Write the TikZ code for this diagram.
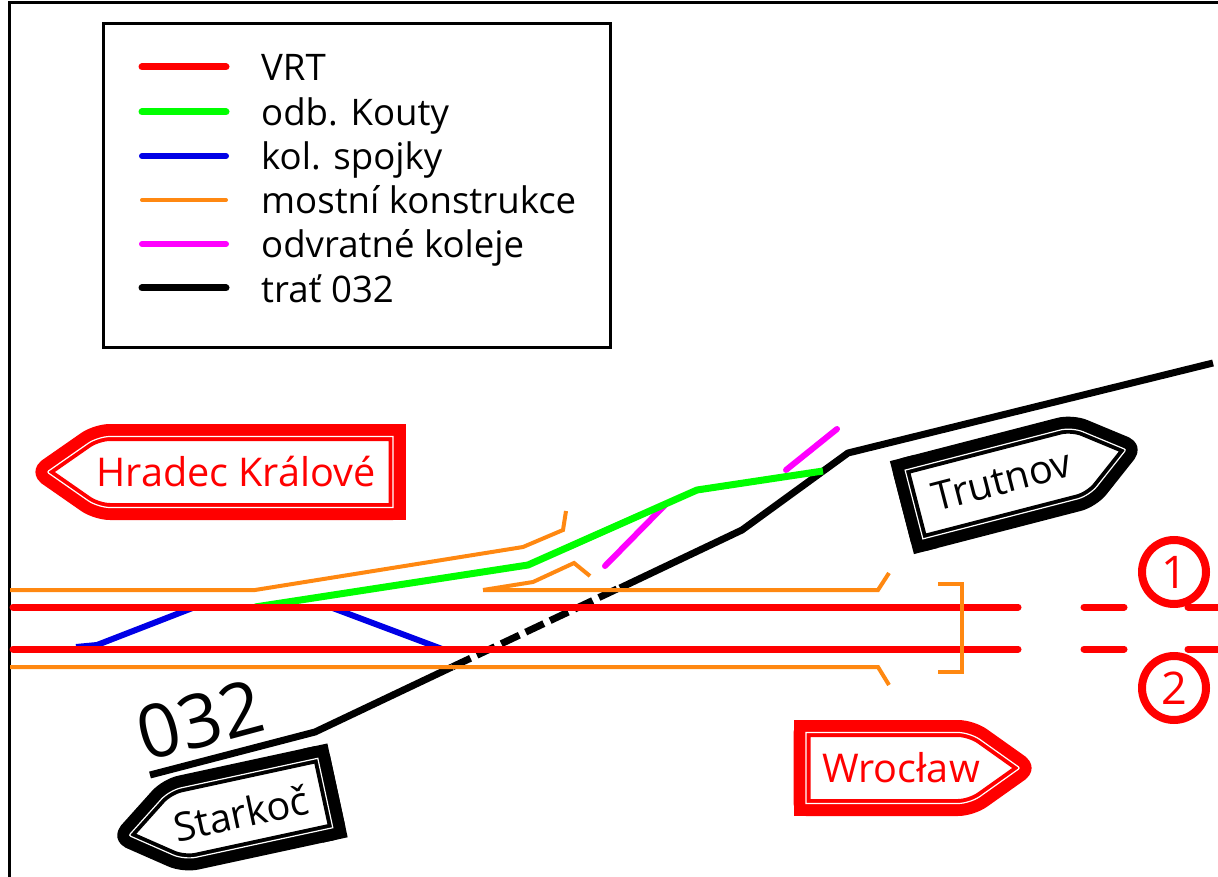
\documentclass[tikz,border=0pt]{standalone}
\usepackage{fontspec}
\setmainfont{Open Sans}
\definecolor{vrtred}{RGB}{255,0,0}
\definecolor{odbgreen}{RGB}{0,255,0}
\definecolor{spojblue}{RGB}{0,0,230}
\definecolor{mostorange}{RGB}{255,136,17}
\definecolor{odvmagenta}{RGB}{255,0,255}
\tikzset{
    vrt/.style={draw=vrtred,line width=7pt},
    kouty/.style={draw=odbgreen,line width=7pt},
    spojka/.style={draw=spojblue,line width=6pt},
    most/.style={draw=mostorange,line width=4pt},
    odvrat/.style={draw=odvmagenta,line width=6pt,line cap=round},
    trat/.style={draw=black,line width=7pt},
    legtext/.style={anchor=base west,inner sep=0pt,font=\fontsize{36.6}{40}\selectfont},
    signtext/.style={inner sep=0pt,font=\fontsize{39.6}{44}\selectfont},
    numring/.style={circle,draw=vrtred,line width=8pt,minimum size=64pt,inner sep=0pt,text=vrtred,font=\fontsize{45}{50}\selectfont}
}
% tabule: origin, rotation, colour, shoulder, tip
\newcommand{\tabule}[5]{
    \begin{scope}[shift={(#1)},rotate=#2]
        \def\obrys{(0,-35.5) [rounded corners=12pt] -- (#4,-35.5) [rounded corners=2pt] -- (#5,0) [rounded corners=12pt] -- (#4,35.5) [sharp corners] -- (0,35.5) -- cycle}
        \draw[#3,line width=25pt,line join=round] \obrys;
        \draw[#3,line width=25pt,line cap=rect] (0,-35.5) -- (0,35.5);
        \fill[white] \obrys;
        \draw[#3,line width=9pt] \obrys;
        \draw[white,line width=1.2pt] \obrys;
    \end{scope}
}
\begin{document}
\begin{tikzpicture}[x=1pt,y=-1pt]
    \useasboundingbox (0,0) rectangle (1218,877);
    \draw[line width=3pt] (9,877) -- (9,2.5) -- (1218,2.5);

    % legenda
    \draw[line width=3pt] (103,24) rectangle (610,347);
    \foreach \y/\kind/\nazev in {67/vrt/VRT,112/kouty/odb. Kouty,156/spojka/kol. spojky,200/most/mostní konstrukce,244/odvrat/odvratné koleje,288/trat/trať 032}
        {\node[legtext] (leg\y) at (261,\y+14) {\nazev};
         \coordinate (start\y) at (142,\y);
         \draw[\kind,line cap=round] (start\y) -- (226,\y);}

    % trat 032
    \draw[trat,line join=round] (1213,363) -- (848,453) -- (742,530) -- (620,588);
    \draw[trat,dash pattern=on 20pt off 7pt] (617,589) -- (452,667);
    \draw[trat,line join=round] (452,667) -- (315,732) -- (150,775);

    % odvratne koleje
    \draw[odvrat] (605,566) -- (665,505);
    \draw[odvrat] (786,470) -- (837,429);

    % spojky a odbocka
    \draw[spojka] (76,647) -- (97,645) -- (195,607);
    \draw[spojka] (330,607) -- (442,649);
    \draw[kouty,line join=round] (255,607) -- (528,565) -- (697,490) -- (823,471);

    % VRT
    \foreach \y in {607,649}
        {\draw[vrt,line cap=round] (13,\y) -- (1018,\y);
         \draw[vrt,line cap=round] (1084,\y) -- (1124,\y);
         \draw[vrt,line cap=round] (1188,\y) -- (1222,\y);}

    % mostni konstrukce
    \draw[most] (10,590) -- (255,590) -- (523,547) -- (563,530) -- (566,511);
    \draw[most] (483,590) -- (878,590) -- (889,573);
    \draw[most] (483,590) -- (533,582) -- (574,563) -- (590,576);
    \draw[most] (10,667) -- (878,667) -- (889,685);
    \draw[most] (938,584) -- (962,584) -- (962,672) -- (938,672);

    % tabule
    \tabule{393,472}{180}{vrtred}{295}{346}
    \tabule{806,768}{0}{vrtred}{164}{214}
    \tabule{914,504.5}{14.5}{black}{172}{219}
    \tabule{325.3,793}{192.2}{black}{152}{201}
    \node[signtext,text=vrtred] (hradec) at (236,472) {Hradec Králové};
    \node[signtext,text=vrtred] (wroclaw) at (901,768) {Wrocław};
    \node[signtext,rotate=14.5] (trutnov) at (1002,480) {Trutnov};
    \node[signtext,rotate=12.2] (starkoc) at (241,813) {Starkoč};
    \node[inner sep=0pt,rotate=15,font=\fontsize{74}{80}\selectfont] (trat032) at (200,720) {032};

    % cisla koleji
    \node[numring] (kol1) at (1174,572) {1};
    \node[numring] (kol2) at (1174,688) {2};
\end{tikzpicture}
\end{document}
